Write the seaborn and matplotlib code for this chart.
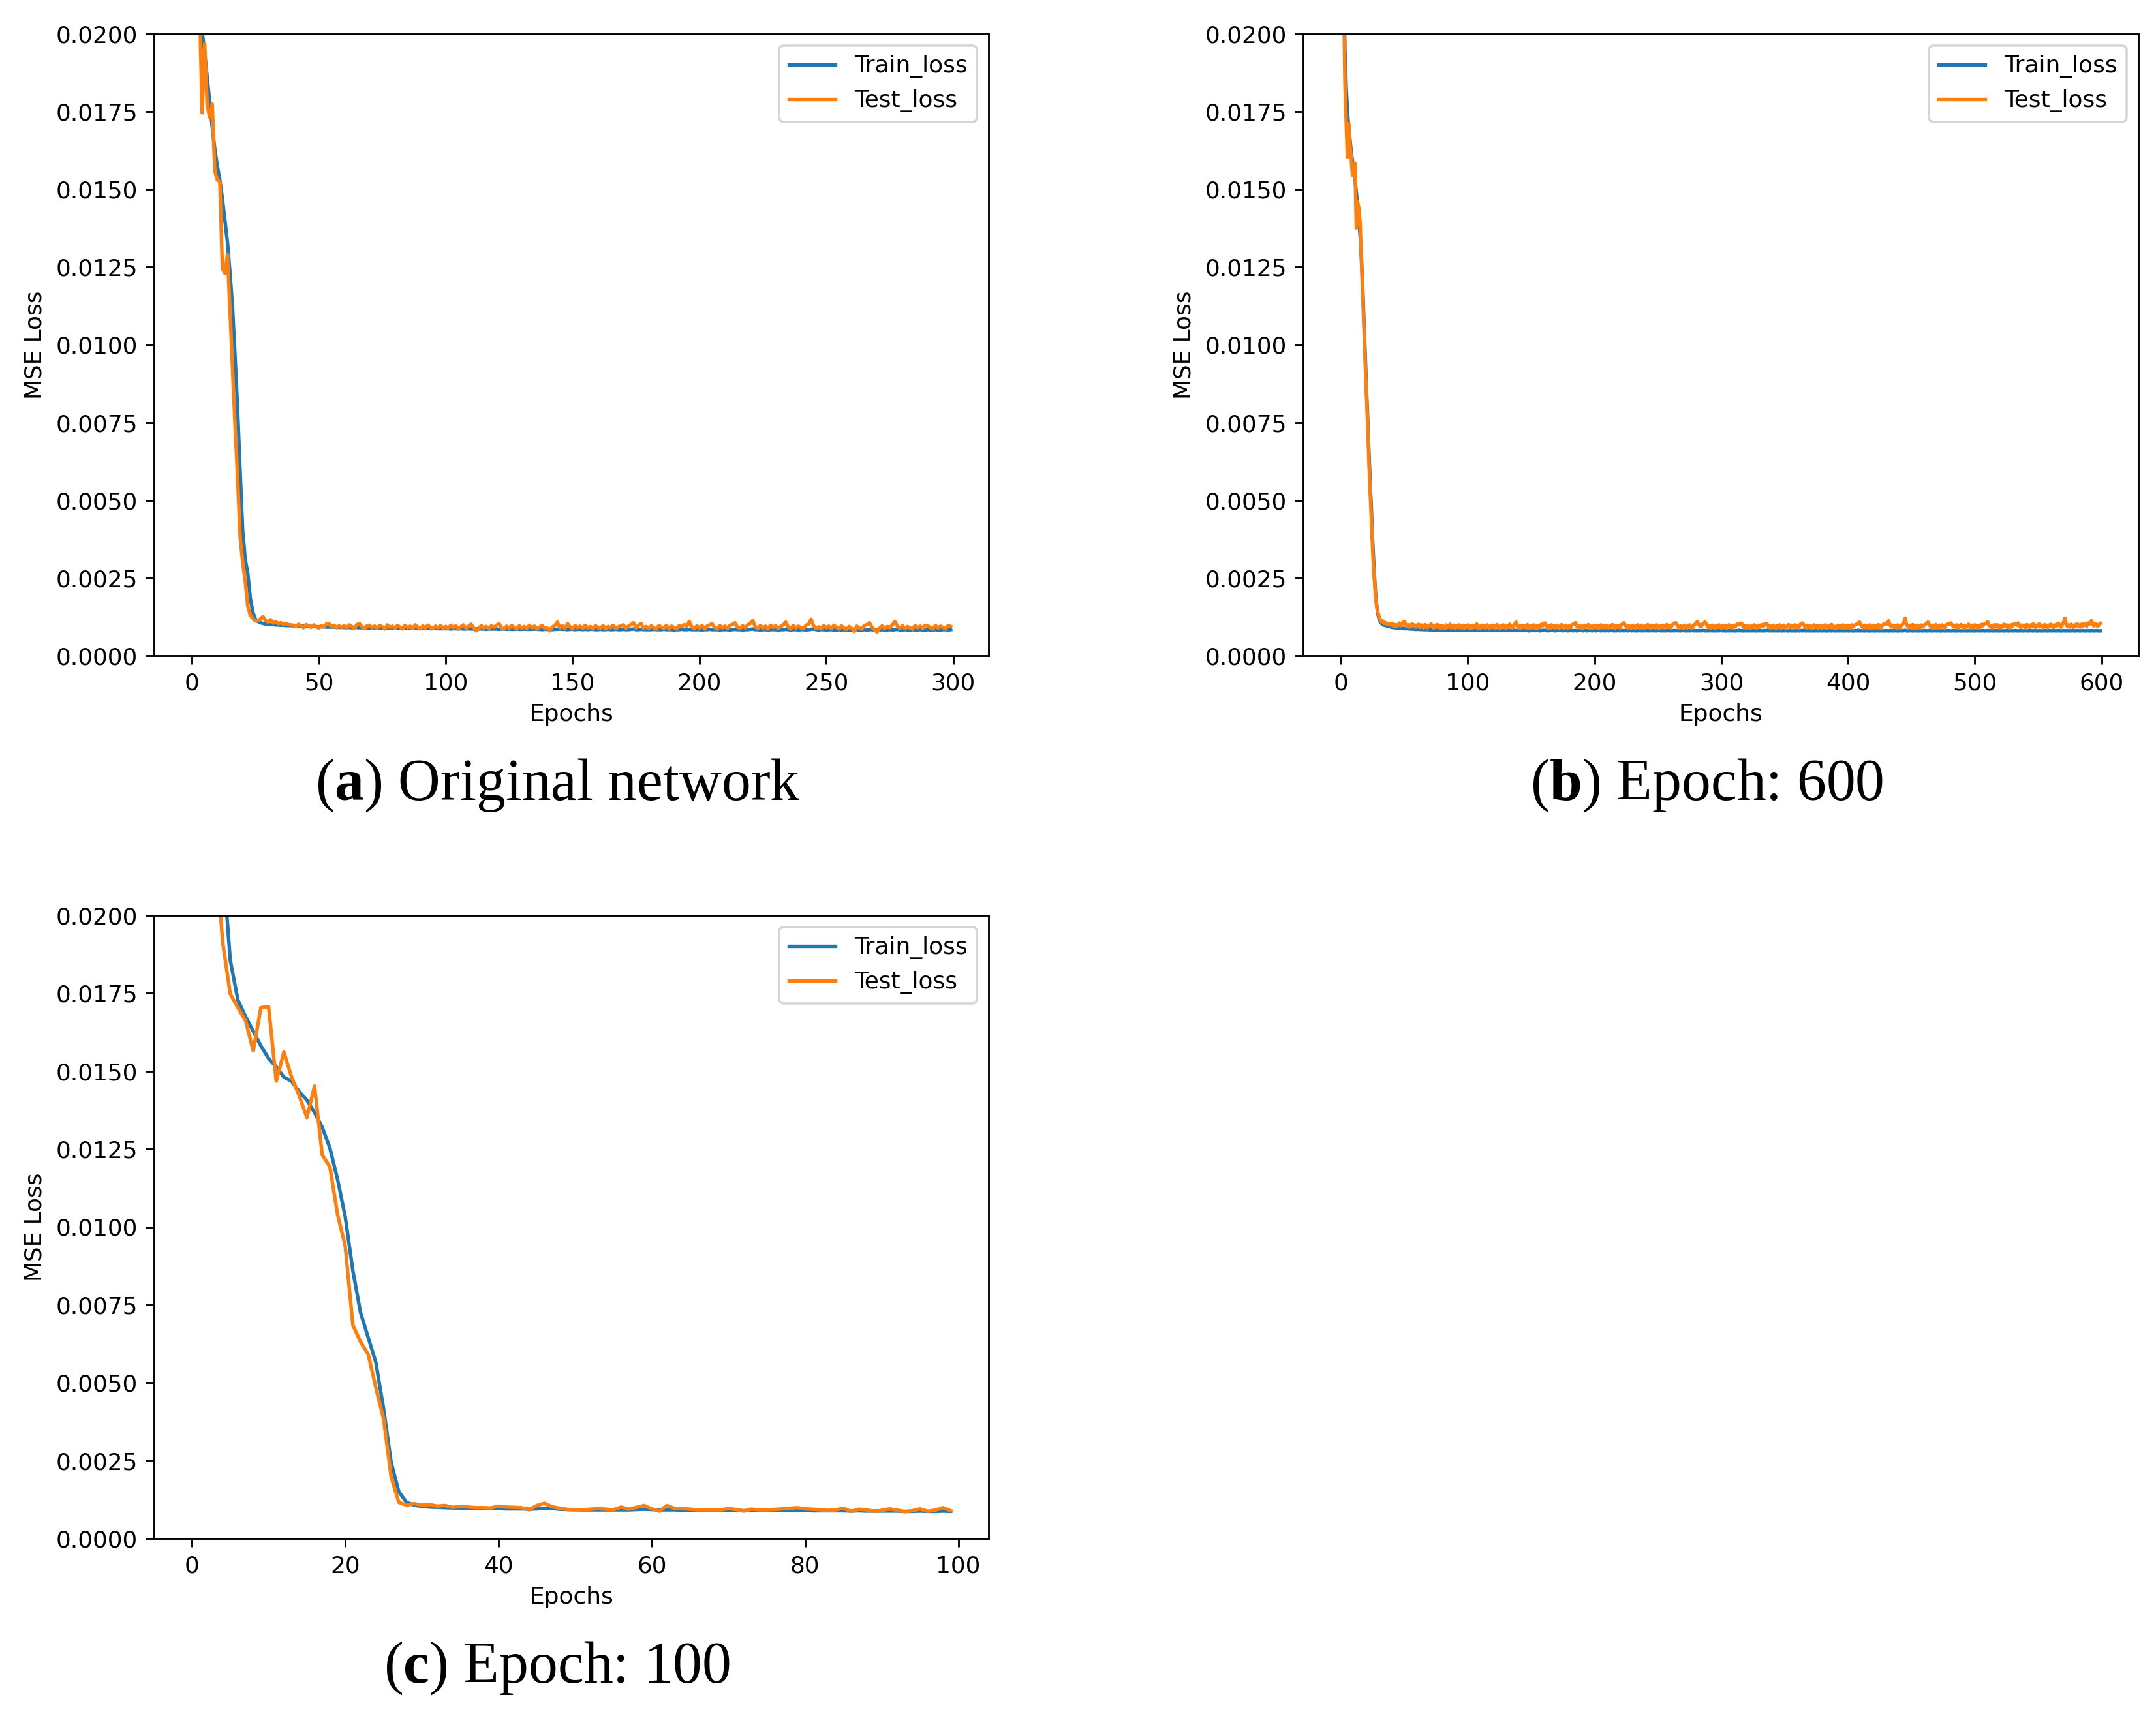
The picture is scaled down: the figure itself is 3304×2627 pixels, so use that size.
import numpy as np
import matplotlib
matplotlib.use("Agg")
import matplotlib.pyplot as plt
import seaborn as sns

# Loss values are stored in units of 1e-5 (e.g. 92 -> 0.00092)
LOSS_UNIT = 1e-5

# ---------------- (a) Original network: 300 epochs ----------------
train_a = [
    6000, 4000, 2900, 2250, 2010, 1940, 1860, 1780, 1700, 1630, 1575, 1530, 1470, 1400, 1330, 1230, 1120, 960, 790, 590,
    400, 310, 265, 185, 140, 118, 110, 106, 104, 102, 101, 100, 100, 99, 99, 98, 98, 97, 97, 97,
    96, 96, 96, 95, 95, 95, 94, 94, 94, 93, 93, 93, 93, 92, 92, 92, 92, 92, 91, 91,
    91, 91, 91, 90, 90, 91, 90, 90, 90, 90, 89, 89, 90, 89, 89, 89, 89, 89, 88, 89,
    88, 89, 88, 88, 88, 88, 89, 88, 88, 87, 88, 88, 87, 88, 87, 87, 88, 87, 87, 87,
    87, 87, 86, 87, 87, 86, 87, 86, 86, 87, 86, 86, 86, 87, 86, 86, 85, 86, 86, 86,
    86, 85, 86, 86, 85, 86, 85, 85, 86, 85, 85, 86, 85, 85, 85, 86, 85, 85, 84, 85,
    85, 85, 84, 85, 85, 86, 85, 85, 84, 85, 85, 84, 85, 85, 84, 85, 84, 85, 85, 84,
    84, 85, 84, 84, 85, 84, 84, 85, 84, 84, 85, 84, 84, 85, 86, 84, 84, 85, 84, 84,
    84, 84, 85, 84, 84, 84, 85, 84, 84, 84, 83, 84, 84, 85, 84, 84, 85, 84, 84, 84,
    84, 83, 84, 84, 85, 84, 84, 84, 83, 84, 84, 84, 83, 84, 85, 84, 84, 83, 84, 84,
    85, 86, 84, 84, 83, 84, 84, 83, 84, 84, 84, 83, 84, 84, 85, 84, 83, 84, 84, 83,
    84, 84, 83, 84, 85, 86, 84, 83, 84, 84, 83, 84, 84, 83, 83, 84, 83, 84, 83, 83,
    83, 83, 84, 83, 83, 84, 83, 84, 84, 83, 83, 83, 84, 83, 83, 84, 83, 84, 85, 83,
    83, 84, 83, 83, 84, 83, 83, 84, 83, 83, 84, 83, 83, 84, 83, 83, 84, 84, 83, 84,
]
test_a = [
    4500, 3000, 2300, 2100, 1746, 1969, 1773, 1731, 1775, 1560, 1530, 1525, 1245, 1230, 1290, 1110, 920, 740, 570, 380,
    300, 240, 160, 130, 120, 112, 112, 118, 126, 113, 108, 116, 105, 110, 103, 106, 101, 104, 100, 99,
    98, 93, 101, 95, 90, 100, 96, 91, 99, 94, 89, 97, 92, 102, 104, 93, 98, 90, 96, 91,
    97, 89, 99, 94, 88, 100, 103, 92, 87, 96, 98, 90, 95, 88, 97, 93, 86, 99, 91, 95,
    88, 97, 92, 86, 98, 90, 95, 87, 99, 92, 86, 96, 89, 98, 91, 87, 95, 90, 97, 88,
    94, 87, 98, 90, 96, 86, 93, 99, 88, 95, 101, 90, 80, 86, 97, 89, 94, 87, 96, 91,
    98, 103, 90, 86, 95, 88, 97, 91, 86, 96, 89, 94, 87, 98, 90, 95, 86, 92, 97, 88,
    89, 80, 92, 97, 108, 90, 96, 87, 103, 93, 86, 97, 90, 95, 87, 98, 89, 94, 86, 96,
    91, 88, 97, 86, 94, 90, 98, 87, 93, 96, 99, 89, 95, 100, 106, 90, 98, 103, 88, 94,
    87, 96, 90, 85, 97, 92, 88, 98, 86, 95, 91, 86, 97, 93, 100, 95, 110, 92, 87, 96,
    89, 97, 86, 95, 99, 103, 91, 86, 97, 90, 95, 87, 98, 100, 106, 92, 87, 96, 90, 99,
    104, 113, 93, 87, 97, 89, 95, 86, 98, 91, 96, 87, 94, 99, 108, 92, 86, 97, 89, 95,
    90, 87, 98, 101, 117, 96, 88, 93, 86, 97, 90, 95, 87, 98, 91, 86, 96, 89, 85, 94,
    88, 78, 95, 89, 86, 97, 100, 106, 91, 84, 76, 89, 96, 87, 94, 90, 99, 110, 95, 88,
    96, 87, 94, 89, 86, 97, 90, 95, 88, 98, 96, 90, 86, 97, 89, 95, 91, 86, 97, 94,
]

# ---------------- (b) Epoch: 600 ----------------
train_b = [
    5500, 3500, 2300, 1950, 1830, 1750, 1700, 1660, 1620, 1590, 1560, 1530, 1490, 1450, 1410, 1350, 1280, 1190, 1080, 970,
    860, 760, 650, 550, 460, 360, 280, 210, 165, 135, 118, 108, 103, 100, 98, 97, 96, 95, 94, 93,
    91, 91, 90, 90, 89, 89, 89, 88, 88, 88, 87, 87, 87, 87, 86, 86, 86, 86, 85, 85,
    85, 85, 85, 84, 85, 84, 84, 84, 84, 84, 83, 84, 83, 83, 83, 83, 84, 83, 83, 83,
    83, 82, 83, 83, 82, 83, 82, 82, 83, 82, 82, 82, 83, 82, 82, 82, 81, 82, 82, 82,
    82, 81, 82, 82, 81, 82, 81, 82, 83, 81, 82, 81, 81, 82, 81, 82, 81, 81, 82, 81,
    81, 82, 81, 81, 82, 81, 83, 81, 81, 82, 81, 81, 82, 81, 81, 81, 82, 81, 81, 82,
    81, 81, 82, 81, 81, 81, 82, 81, 80, 81, 81, 82, 81, 81, 81, 82, 81, 80, 81, 81,
    82, 81, 81, 80, 81, 81, 82, 81, 81, 80, 81, 81, 81, 82, 81, 80, 81, 81, 81, 80,
    81, 82, 81, 80, 81, 81, 80, 81, 81, 82, 81, 80, 81, 81, 80, 81, 81, 81, 80, 81,
    81, 80, 81, 82, 81, 80, 81, 81, 80, 81, 81, 80, 81, 82, 81, 80, 81, 80, 81, 81,
    80, 81, 81, 80, 81, 81, 80, 81, 82, 80, 81, 81, 80, 81, 80, 81, 81, 80, 81, 80,
    81, 81, 80, 81, 80, 81, 81, 80, 81, 80, 81, 82, 80, 81, 80, 81, 80, 81, 81, 80,
    81, 80, 81, 80, 81, 81, 80, 81, 80, 82, 81, 80, 81, 80, 81, 80, 81, 81, 80, 81,
    80, 81, 80, 81, 80, 81, 81, 80, 81, 80, 82, 80, 81, 80, 81, 80, 80, 81, 80, 81,
    81, 80, 81, 80, 80, 81, 80, 81, 80, 81, 80, 80, 81, 80, 82, 80, 81, 80, 80, 81,
    80, 81, 80, 80, 81, 80, 81, 80, 80, 81, 80, 81, 80, 80, 81, 80, 82, 80, 81, 80,
    80, 81, 80, 81, 80, 80, 81, 80, 80, 81, 80, 81, 80, 80, 81, 80, 80, 81, 80, 80,
    81, 80, 80, 81, 80, 82, 80, 80, 81, 80, 80, 81, 80, 80, 80, 81, 80, 80, 81, 80,
    80, 81, 80, 80, 80, 81, 80, 80, 81, 80, 80, 80, 81, 80, 80, 81, 80, 80, 80, 81,
    80, 80, 81, 80, 80, 80, 81, 80, 82, 80, 80, 81, 80, 80, 80, 81, 80, 80, 80, 81,
    80, 80, 80, 81, 80, 80, 81, 80, 80, 80, 81, 80, 80, 80, 81, 80, 80, 81, 80, 80,
    80, 81, 80, 80, 81, 82, 80, 80, 80, 81, 80, 80, 80, 81, 80, 80, 80, 81, 80, 80,
    81, 80, 80, 80, 81, 80, 80, 80, 81, 80, 80, 81, 80, 80, 80, 81, 80, 80, 80, 81,
    80, 80, 80, 81, 80, 80, 80, 81, 80, 80, 80, 81, 80, 80, 80, 81, 80, 80, 81, 80,
    80, 80, 81, 80, 80, 80, 81, 80, 80, 80, 81, 80, 80, 81, 80, 80, 80, 81, 80, 80,
    80, 81, 80, 80, 80, 81, 80, 80, 80, 81, 80, 80, 81, 80, 80, 80, 81, 80, 80, 80,
    81, 80, 80, 80, 81, 80, 80, 81, 80, 80, 80, 81, 80, 80, 80, 81, 80, 80, 80, 81,
    80, 80, 81, 80, 80, 80, 81, 80, 80, 80, 81, 80, 80, 81, 80, 80, 80, 81, 80, 80,
    80, 81, 80, 80, 80, 81, 80, 80, 80, 81, 80, 80, 81, 80, 80, 80, 81, 80, 80, 80,
]
test_b = [
    5200, 3300, 2150, 1850, 1720, 1604, 1711, 1640, 1600, 1544, 1570, 1584, 1376, 1460, 1440, 1390, 1280, 1175, 1060, 940,
    840, 740, 620, 520, 430, 330, 260, 200, 160, 140, 125, 115, 108, 112, 104, 106, 101, 104, 99, 102,
    98, 103, 95, 100, 94, 99, 105, 96, 101, 108, 110, 98, 93, 100, 92, 98, 103, 93, 99, 92,
    97, 101, 91, 99, 94, 89, 100, 95, 90, 98, 93, 102, 94, 89, 98, 92, 100, 90, 96, 89,
    97, 92, 88, 99, 91, 96, 101, 89, 94, 98, 88, 96, 91, 99, 89, 94, 98, 88, 96, 91,
    99, 89, 95, 88, 98, 91, 96, 102, 89, 95, 88, 98, 91, 96, 89, 99, 93, 88, 97, 91,
    98, 89, 95, 100, 91, 88, 97, 90, 99, 93, 88, 98, 91, 101, 94, 89, 97, 102, 108, 95,
    89, 96, 88, 98, 91, 97, 89, 100, 93, 88, 97, 90, 99, 89, 95, 88, 98, 91, 101, 96,
    104, 105, 95, 89, 96, 88, 99, 91, 97, 89, 98, 93, 88, 97, 100, 91, 88, 98, 93, 89,
    97, 90, 99, 101, 104, 106, 95, 90, 97, 89, 95, 88, 98, 91, 97, 100, 89, 95, 88, 97,
    91, 98, 89, 96, 88, 99, 91, 97, 89, 98, 93, 88, 97, 91, 100, 94, 89, 98, 91, 97,
    89, 99, 102, 106, 100, 93, 89, 97, 91, 88, 98, 93, 89, 97, 99, 91, 88, 98, 93, 89,
    97, 91, 100, 93, 88, 98, 91, 97, 89, 99, 93, 88, 97, 91, 98, 89, 95, 100, 91, 97,
    89, 98, 102, 104, 106, 99, 93, 89, 97, 91, 88, 98, 93, 89, 97, 99, 91, 88, 98, 101,
    104, 110, 103, 96, 93, 101, 104, 108, 104, 95, 90, 97, 89, 98, 93, 88, 97, 91, 99, 93,
    89, 97, 91, 98, 88, 94, 99, 91, 97, 89, 98, 93, 100, 102, 99, 104, 104, 95, 90, 97,
    89, 98, 93, 88, 97, 91, 99, 93, 89, 98, 91, 97, 100, 93, 101, 103, 102, 95, 90, 97,
    89, 98, 93, 88, 97, 91, 99, 89, 94, 98, 91, 88, 97, 100, 91, 98, 89, 94, 99, 91,
    97, 89, 100, 102, 105, 99, 93, 89, 98, 91, 97, 88, 94, 99, 91, 97, 89, 98, 93, 88,
    97, 91, 99, 93, 89, 98, 91, 100, 96, 89, 94, 88, 98, 91, 97, 89, 99, 93, 88, 98,
    91, 97, 89, 99, 93, 98, 100, 102, 104, 108, 99, 93, 89, 98, 91, 97, 88, 99, 93, 89,
    98, 91, 97, 89, 100, 93, 88, 98, 101, 104, 100, 106, 112, 99, 93, 98, 91, 97, 89, 99,
    93, 89, 98, 101, 108, 121, 100, 94, 90, 98, 89, 100, 93, 88, 98, 91, 97, 89, 99, 93,
    98, 101, 104, 108, 100, 94, 90, 98, 89, 100, 93, 88, 98, 91, 99, 93, 89, 98, 101, 103,
    100, 105, 99, 93, 98, 91, 99, 89, 96, 100, 93, 88, 98, 91, 97, 101, 93, 89, 98, 91,
    99, 93, 89, 98, 91, 100, 96, 101, 103, 104, 110, 99, 94, 90, 98, 89, 100, 93, 99, 91,
    97, 89, 98, 101, 93, 99, 91, 98, 89, 100, 96, 102, 103, 98, 105, 97, 91, 99, 93, 98,
    89, 100, 96, 91, 99, 93, 102, 97, 91, 99, 95, 103, 93, 98, 90, 100, 96, 89, 99, 93,
    101, 97, 91, 99, 93, 102, 104, 96, 92, 100, 108, 121, 101, 94, 99, 92, 101, 97, 91, 100,
    95, 102, 98, 92, 101, 96, 103, 99, 94, 105, 101, 108, 113, 100, 96, 103, 99, 94, 101, 104,
]

# ---------------- (c) Epoch: 100 ----------------
train_c = [
    6200, 4300, 3200, 2600, 2183, 1856, 1728, 1675, 1628, 1581, 1541, 1514, 1481, 1468, 1434, 1407, 1367, 1320, 1253, 1153,
    1033, 859, 725, 645, 565, 417, 243, 150, 116, 107, 103, 101, 100, 99, 98, 98, 97, 97, 96, 96,
    96, 95, 95, 95, 94, 95, 97, 96, 94, 93, 93, 92, 92, 92, 92, 92, 92, 92, 93, 94,
    93, 92, 92, 92, 91, 91, 91, 91, 91, 90, 90, 90, 89, 90, 90, 90, 90, 90, 90, 91,
    90, 89, 89, 89, 89, 89, 88, 89, 88, 88, 88, 88, 88, 87, 87, 88, 87, 87, 88, 87,
]
test_c = [
    5900, 4100, 3000, 2252, 1916, 1748, 1704, 1662, 1565, 1704, 1707, 1468, 1561, 1481, 1421, 1351, 1452, 1231, 1193, 1040,
    939, 685, 631, 591, 484, 384, 197, 116, 107, 112, 107, 109, 104, 106, 100, 103, 101, 99, 99, 98,
    104, 101, 100, 99, 92, 106, 113, 102, 97, 93, 92, 92, 94, 96, 94, 92, 101, 94, 100, 106,
    95, 88, 106, 96, 96, 94, 92, 92, 92, 92, 96, 93, 88, 94, 92, 92, 93, 95, 97, 99,
    95, 94, 92, 90, 92, 97, 87, 94, 92, 87, 90, 95, 91, 86, 89, 95, 87, 91, 99, 89,
]

series_labels = ["Train_loss", "Test_loss"]
panel_captions = ["Original network", "Epoch: 600", "Epoch: 100"]
panel_letters = ["a", "b", "c"]
y_ticks = [0.0, 0.0025, 0.005, 0.0075, 0.01, 0.0125, 0.015, 0.0175, 0.02]
x_ticks_a = [0, 50, 100, 150, 200, 250, 300]
x_ticks_b = [0, 100, 200, 300, 400, 500, 600]
x_ticks_c = [0, 20, 40, 60, 80, 100]

DPI = 258
W, H = 3304, 2627
plt.rcParams['mathtext.fontset'] = 'custom'
plt.rcParams['mathtext.rm'] = 'Liberation Serif'
plt.rcParams['mathtext.bf'] = 'Liberation Serif:bold'

fig = plt.figure(figsize=(W / DPI, H / DPI), dpi=DPI)
fig.patch.set_facecolor("white")

panels = [
    dict(train=train_a, test=test_a, ticks=x_ticks_a,
         rect=[236 / W, 1 - 1005 / H, 1279 / W, 953 / H], cap=(855 / W, 1 - 1204 / H)),
    dict(train=train_b, test=test_b, ticks=x_ticks_b,
         rect=[1997 / W, 1 - 1005 / H, 1280 / W, 953 / H], cap=(2616 / W, 1 - 1204 / H)),
    dict(train=train_c, test=test_c, ticks=x_ticks_c,
         rect=[236 / W, 1 - 2358 / H, 1279 / W, 955 / H], cap=(854 / W, 1 - 2557 / H)),
]
colors = ["#1f77b4", "#ff7f0e"]

for p, letter, caption in zip(panels, panel_letters, panel_captions):
    ax = fig.add_axes(p["rect"])
    for vals, lab, col in zip([p["train"], p["test"]], series_labels, colors):
        y = np.asarray(vals, dtype=float) * LOSS_UNIT
        x = np.arange(len(y))
        sns.lineplot(x=x, y=y, ax=ax, label=lab, color=col, linewidth=1.5)
    ax.set_ylim(0, 0.02)
    ax.set_yticks(y_ticks)
    ax.set_yticklabels([f"{t:.4f}" for t in y_ticks])
    ax.set_xticks(p["ticks"])
    ax.set_xlabel("Epochs")
    ax.set_ylabel("MSE Loss")
    ax.legend(loc="upper right")
    fig.text(p["cap"][0], p["cap"][1], f"($\\mathbf{{{letter}}}$) {caption}",
             family="Liberation Serif", fontsize=25, ha="center", va="center")

fig.savefig("out.png", dpi=DPI)
